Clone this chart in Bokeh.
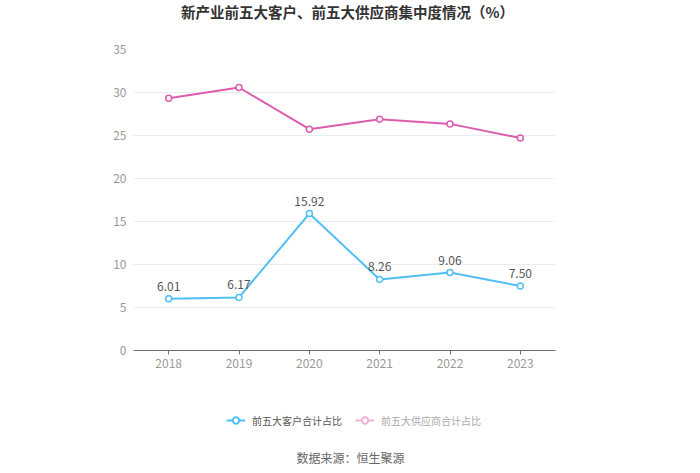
from bokeh.plotting import figure
from bokeh.layouts import column
from bokeh.models import (ColumnDataSource, FixedTicker, Legend, LegendItem, Range1d,
                          LabelSet, Label)
from bokeh.embed import file_html
from bokeh.resources import INLINE
from bokeh.core.properties import value

years = ["2018", "2019", "2020", "2021", "2022", "2023"]
customers = [6.01, 6.17, 15.92, 8.26, 9.06, 7.50]
suppliers = [29.33, 30.58, 25.73, 26.90, 26.35, 24.70]
y_ticks = [0, 5, 10, 15, 20, 25, 30, 35]
title_text = "新产业前五大客户、前五大供应商集中度情况（%）"
series_names = ["前五大客户合计占比", "前五大供应商合计占比"]
source_text = "数据来源：恒生聚源"

FONT = "Noto Sans CJK SC"
BLUE = "#4fbff5"
PINK = "#dc5cae"
PINK_FADED = "#efb3d9"
W = 700
FRAME_LEFT = 133   # frames of the stacked figures are aligned to the chart's frame


def blank(h):
    # off-screen y range: the series drawn here only feed the legend
    f = figure(width=W, height=h, x_range=years, y_range=Range1d(1000, 1001),
               output_backend="svg", toolbar_location=None,
               min_border_left=FRAME_LEFT, min_border_right=145,
               min_border_top=0, min_border_bottom=0)
    f.axis.visible = False
    f.grid.grid_line_color = None
    f.outline_line_color = None
    f.border_fill_color = "white"
    return f


src = ColumnDataSource(dict(x=years, c=customers, s=suppliers,
                            cl=["%.2f" % v for v in customers]))

# ---- header (title)
head = blank(30)
head.add_layout(Label(x=347 - FRAME_LEFT, y=19, x_units="screen", y_units="screen",
                      text=title_text, text_align="center", text_baseline="middle",
                      text_font=FONT, text_font_size="14.5px", text_font_style="bold",
                      text_color="#333333"))

# ---- main chart
p = figure(x_range=years, y_range=Range1d(0, 35), width=W, height=350,
           output_backend="svg", toolbar_location=None,
           min_border_left=FRAME_LEFT, min_border_right=145,
           min_border_top=19, min_border_bottom=30)
p.outline_line_color = None
p.background_fill_color = "white"
p.border_fill_color = "white"

p.line("x", "c", source=src, line_color=BLUE, line_width=2)
p.scatter("x", "c", source=src, size=6, fill_color="white", line_color=BLUE, line_width=1.5)
p.line("x", "s", source=src, line_color=PINK, line_width=2)
p.scatter("x", "s", source=src, size=6, fill_color="white", line_color=PINK, line_width=1.5)

p.add_layout(LabelSet(x="x", y="c", text="cl", source=src, y_offset=8,
                      text_align="center", text_baseline="bottom",
                      text_font=value(FONT), text_font_size="12px", text_color="#555555"))

p.yaxis.ticker = FixedTicker(ticks=y_ticks)
p.yaxis.axis_line_color = None
p.yaxis.major_tick_line_color = None
p.yaxis.major_tick_out = 0
p.yaxis.major_tick_in = 0
p.yaxis.minor_tick_line_color = None
p.yaxis.major_label_text_color = "#999999"
p.yaxis.major_label_text_font = FONT
p.yaxis.major_label_text_font_size = "12px"
p.yaxis.major_label_standoff = 7

p.xaxis.axis_line_color = "#6e7079"
p.xaxis.major_tick_line_color = "#6e7079"
p.xaxis.major_tick_in = 0
p.xaxis.major_tick_out = 4
p.xaxis.major_label_text_color = "#999999"
p.xaxis.major_label_text_font = FONT
p.xaxis.major_label_text_font_size = "12px"
p.xaxis.major_label_standoff = 4

p.xgrid.grid_line_color = None
p.ygrid.grid_line_color = "#e9ecf2"
p.ygrid.ticker = FixedTicker(ticks=y_ticks)

# ---- footer (legend + source)
foot = blank(93)
fl1 = foot.line("x", "c", source=src, line_color=BLUE, line_width=2)
fm1 = foot.scatter("x", "c", source=src, size=9, fill_color="white", line_color=BLUE, line_width=2)
fl2 = foot.line("x", "s", source=src, line_color=PINK_FADED, line_width=2)
fm2 = foot.scatter("x", "s", source=src, size=9, fill_color="white", line_color=PINK_FADED, line_width=2)

common = dict(orientation="horizontal", label_text_font=FONT, label_text_font_size="10px",
              glyph_width=19, glyph_height=16, label_height=16, label_standoff=7,
              border_line_color=None, background_fill_alpha=0, margin=0, padding=0)
foot.add_layout(Legend(items=[LegendItem(label=series_names[0], renderers=[fl1, fm1])],
                       location=(226 - FRAME_LEFT, 45), label_text_color="#555555", **common))
foot.add_layout(Legend(items=[LegendItem(label=series_names[1], renderers=[fl2, fm2])],
                       location=(355 - FRAME_LEFT, 45), label_text_color="#aaaaaa", **common))

foot.add_layout(Label(x=350 - FRAME_LEFT, y=16, x_units="screen", y_units="screen",
                      text=source_text, text_align="center", text_baseline="middle",
                      text_font=FONT, text_font_size="12px", text_color="#666666"))

layout = column(head, p, foot, spacing=0)
open("out.html", "w").write(file_html(layout, INLINE))
